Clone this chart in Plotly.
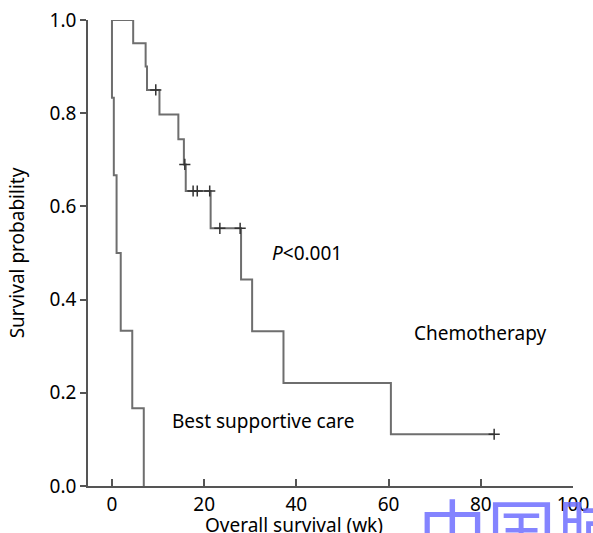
import plotly.graph_objects as go

# Kaplan-Meier step data (weeks, survival probability)
chemo_t = [0, 4.6, 7.3, 7.6, 10.3, 14.4, 15.6, 16.0, 21.4, 28.0, 30.4, 37.2, 60.5, 82.9]
chemo_s = [1.0, 0.95, 0.90, 0.85, 0.797, 0.744, 0.69, 0.633, 0.553, 0.443, 0.332, 0.221, 0.111, 0.111]
chemo_cens_t = [9.5, 15.8, 17.6, 18.5, 21.2, 23.4, 27.8, 82.9]
chemo_cens_s = [0.85, 0.69, 0.633, 0.633, 0.633, 0.553, 0.553, 0.111]

bsc_t = [0, 0, 0.4, 1.0, 1.9, 4.4, 6.9]
bsc_s = [1.0, 0.833, 0.667, 0.5, 0.333, 0.167, 0.0]

x_ticks = [0, 20, 40, 60, 80, 100]
y_ticks = [0.0, 0.2, 0.4, 0.6, 0.8, 1.0]
y_tick_labels = ["0.0", "0.2", "0.4", "0.6", "0.8", "1.0"]

line_col = "#6e6e6e"
FONT = "Noto Sans"
FS = 19

fig = go.Figure()
fig.add_trace(go.Scatter(x=chemo_t, y=chemo_s, mode="lines", line=dict(shape="hv", color=line_col, width=2),
                         showlegend=False, cliponaxis=False))
fig.add_trace(go.Scatter(x=bsc_t, y=bsc_s, mode="lines", line=dict(shape="hv", color=line_col, width=2),
                         showlegend=False, cliponaxis=False))
fig.add_trace(go.Scatter(x=chemo_cens_t, y=chemo_cens_s, mode="markers",
                         marker=dict(symbol="cross-thin", size=8, line=dict(color="#333333", width=1.5)),
                         showlegend=False, cliponaxis=False))

fig.add_annotation(x=42.3, y=0.50, text="<i>P</i><0.001", showarrow=False, xanchor="center", yanchor="middle",
                   font=dict(size=FS, color="black", family=FONT))
fig.add_annotation(x=79.8, y=0.328, text="Chemotherapy", showarrow=False, xanchor="center", yanchor="middle",
                   font=dict(size=FS, color="black", family=FONT))
fig.add_annotation(x=32.8, y=0.139, text="Best supportive care", showarrow=False, xanchor="center", yanchor="middle",
                   font=dict(size=FS, color="black", family=FONT))
# x-axis title (placed low, as in the source image)
fig.add_annotation(xref="paper", yref="paper", x=0.425, y=-0.051, text="Overall survival (wk)", showarrow=False,
                   xanchor="center", yanchor="top", font=dict(size=FS, color="black", family=FONT))
# watermark (partly outside the canvas, as in the source image)
fig.add_annotation(xref="paper", yref="paper", x=0.676, y=0.021, text="中国肺癌杂志", showarrow=False,
                   xanchor="left", yanchor="top",
                   font=dict(size=69, color="rgba(110,110,255,0.85)", family="Noto Sans CJK SC"))

fig.update_layout(
    width=593, height=533,
    margin=dict(l=88, r=20, t=20, b=47),
    paper_bgcolor="white", plot_bgcolor="white",
    font=dict(family=FONT, size=FS, color="black"),
    xaxis=dict(range=[-5.2, 100], tickvals=x_ticks, ticks="inside", ticklen=7, tickwidth=1.5,
               tickcolor="#555555", showline=True, linecolor="#555555", linewidth=1.5,
               showgrid=False, zeroline=False, tickfont=dict(size=FS), automargin=False),
    yaxis=dict(range=[0, 1], tickvals=y_ticks, ticktext=y_tick_labels, ticks="outside", ticklen=6,
               tickwidth=1.5, tickcolor="#555555", showline=True, linecolor="#555555", linewidth=1.5,
               showgrid=False, zeroline=False, tickfont=dict(size=FS), automargin=False,
               title=dict(text="Survival probability", standoff=20, font=dict(size=FS))),
)
fig.write_html("out.html", config={"displayModeBar": False},
               post_script="document.body.style.margin='0';")
